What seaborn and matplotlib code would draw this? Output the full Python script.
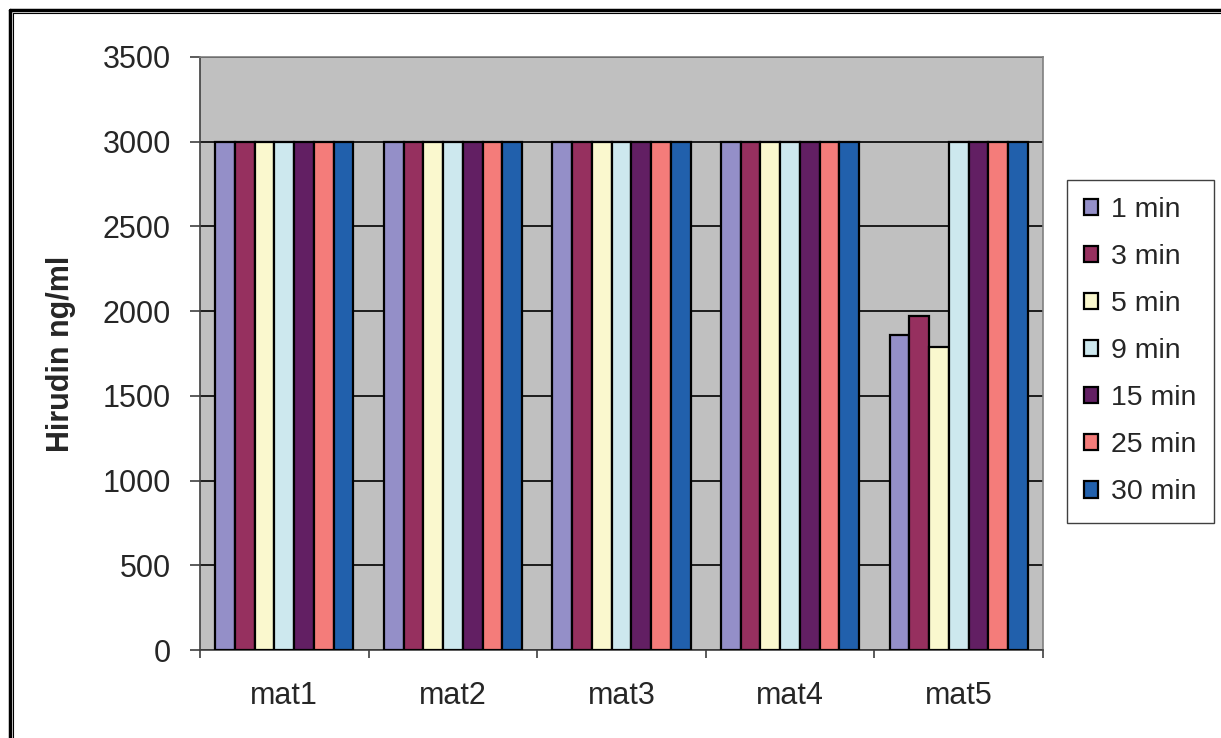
import matplotlib
matplotlib.use("Agg")
import matplotlib.pyplot as plt
from matplotlib.patches import Patch
from matplotlib.lines import Line2D
import seaborn as sns
import pandas as pd
import numpy as np

# Hirudin concentration per material and sampling time
materials = ["mat1", "mat2", "mat3", "mat4", "mat5"]
times = ["1 min", "3 min", "5 min", "9 min", "15 min", "25 min", "30 min"]
mat1 = [3000, 3000, 3000, 3000, 3000, 3000, 3000]
mat2 = [3000, 3000, 3000, 3000, 3000, 3000, 3000]
mat3 = [3000, 3000, 3000, 3000, 3000, 3000, 3000]
mat4 = [3000, 3000, 3000, 3000, 3000, 3000, 3000]
mat5 = [1860, 1970, 1790, 3000, 3000, 3000, 3000]
y_ticks = [0, 500, 1000, 1500, 2000, 2500, 3000, 3500]

colors = ["#948FC8", "#96305F", "#FAF8CE", "#CDE8EE", "#621F63", "#F47C7A", "#2160AC"]

series = {"mat1": mat1, "mat2": mat2, "mat3": mat3, "mat4": mat4, "mat5": mat5}
rows = []
for m in materials:
    for t, v in zip(times, series[m]):
        rows.append({"material": m, "time": t, "value": v})
df = pd.DataFrame(rows)

sns.set_style("white")
plt.rcParams["font.family"] = ["Liberation Sans", "DejaVu Sans"]

W, H = 1221, 738
fig = plt.figure(figsize=(W / 100, H / 100), dpi=100)
fig.patch.set_facecolor("white")

left, right, top, bottom = 200, 1043, 57, 650
ax = fig.add_axes([left / W, 1 - bottom / H, (right - left) / W, (bottom - top) / H])
ax.set_facecolor("#C0C0C0")

sns.barplot(data=df, x="material", y="value", hue="time", order=materials,
            hue_order=times, palette=colors, width=0.82, saturation=1,
            edgecolor="black", linewidth=1.6, legend=False, ax=ax, zorder=3)

ax.set_ylim(0, 3500)
ax.set_xlim(-0.5, len(materials) - 0.5)
ax.set_yticks(y_ticks)
ax.set_yticklabels([str(v) for v in y_ticks])
ax.yaxis.grid(True, color="black", linewidth=1.2, zorder=1)
ax.xaxis.grid(False)
ax.set_axisbelow(True)

# category boundary ticks on the x axis
ax.set_xticks(np.arange(-0.5, len(materials)), minor=True)
ax.tick_params(axis="x", which="major", length=0, pad=22, labelsize=22)
ax.tick_params(axis="x", which="minor", length=6, width=1.2, color="#404040",
               direction="out", bottom=True)
ax.tick_params(axis="y", which="major", length=7, width=1.2, color="#404040",
               direction="out", left=True, pad=14, labelsize=22)
ax.set_xlabel("")
ax.set_ylabel("Hirudin ng/ml", fontsize=22, fontweight="bold")
ax.yaxis.set_label_coords(-0.147, 0.5)

for side in ["left", "bottom"]:
    ax.spines[side].set_color("#404040")
    ax.spines[side].set_linewidth(1.2)
for side in ["top", "right"]:
    ax.spines[side].set_color("#808080")
    ax.spines[side].set_linewidth(1.2)

handles = [Patch(facecolor=c, edgecolor="black", linewidth=1.6) for c in colors]
leg = fig.legend(handles, times, loc="upper left",
                 bbox_to_anchor=(1067 / W, 1 - 180 / H), bbox_transform=fig.transFigure,
                 fontsize=20.5, frameon=True, fancybox=False, framealpha=1,
                 edgecolor="#404040", borderaxespad=0, handlelength=0.5,
                 handleheight=0.5, handletextpad=0.45, labelspacing=0.74,
                 borderpad=0.6)
leg.get_frame().set_linewidth(1.0)

# double frame around the figure
fig.add_artist(Line2D([9.5 / W, 9.5 / W], [0, 1 - 9.5 / H], transform=fig.transFigure,
                      color="black", linewidth=2.5))
fig.add_artist(Line2D([9.5 / W, 1], [1 - 9.5 / H, 1 - 9.5 / H], transform=fig.transFigure,
                      color="black", linewidth=2.5))
fig.add_artist(Line2D([12.5 / W, 12.5 / W], [0, 1 - 12.5 / H], transform=fig.transFigure,
                      color="black", linewidth=0.8))
fig.add_artist(Line2D([12.5 / W, 1], [1 - 12.5 / H, 1 - 12.5 / H], transform=fig.transFigure,
                      color="black", linewidth=0.8))

fig.savefig("out.png", dpi=100)
